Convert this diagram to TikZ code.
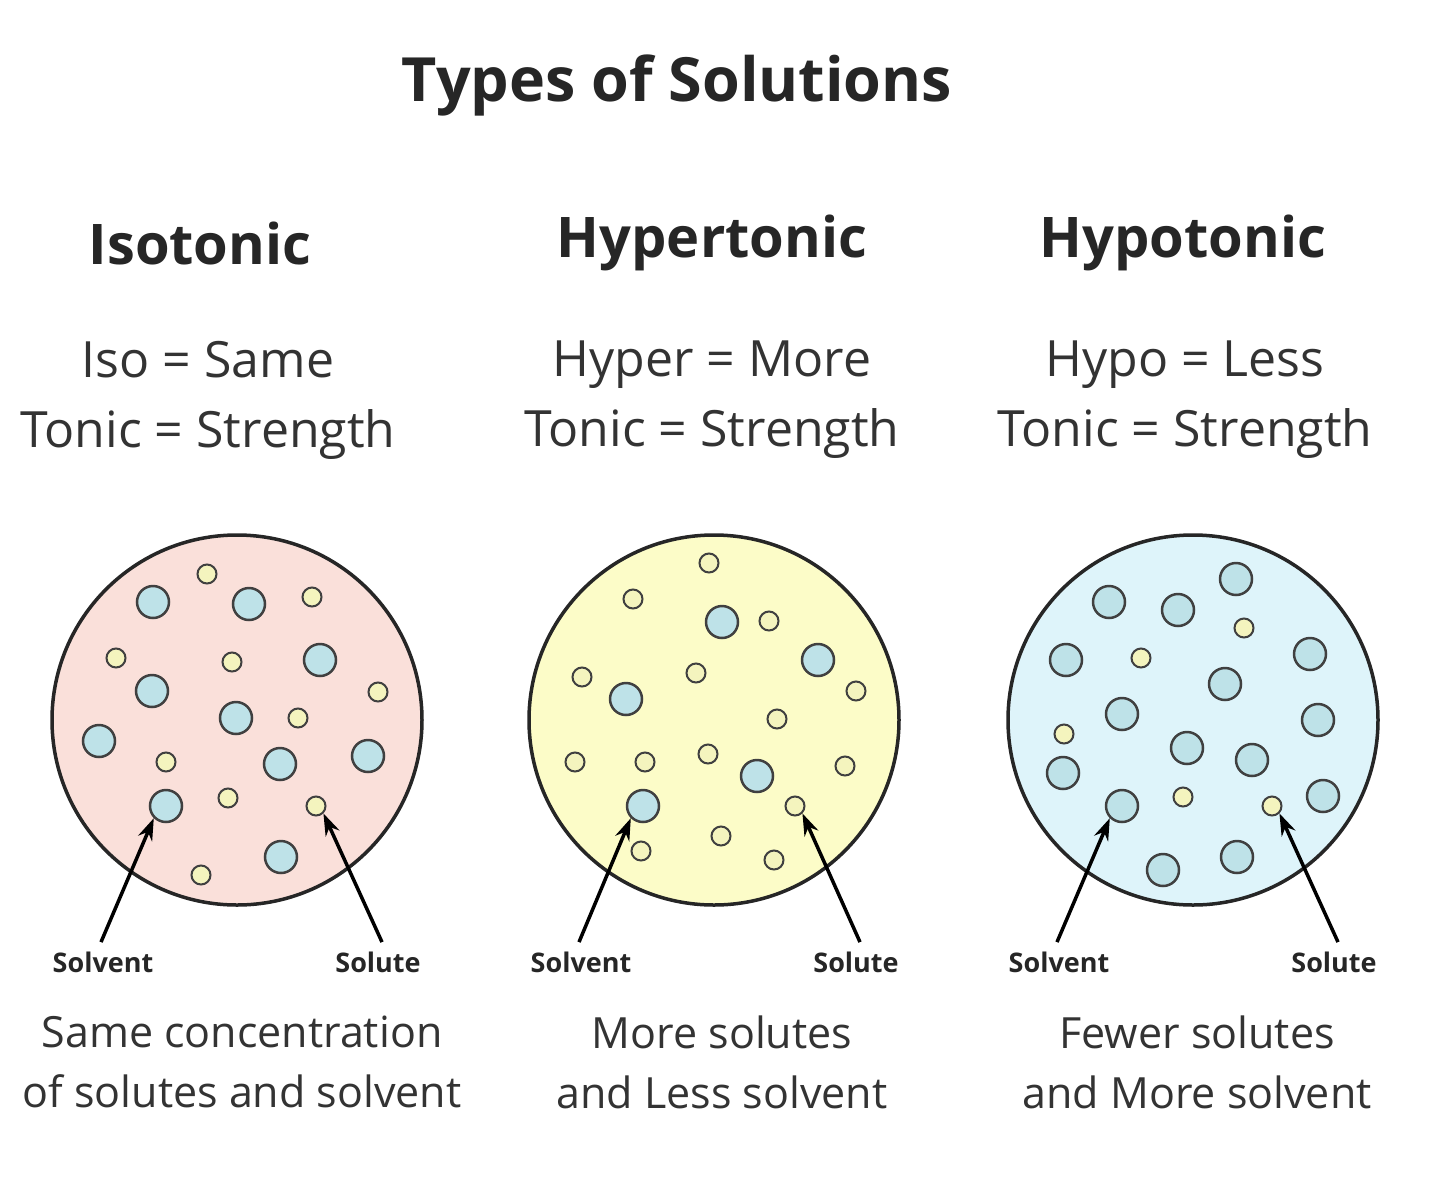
\documentclass[tikz,border=0pt]{standalone}
\usepackage{fontspec}
\setmainfont{Open Sans}
\usetikzlibrary{arrows.meta}
\definecolor{isofill}{RGB}{250,224,218}
\definecolor{hyperfill}{RGB}{252,252,200}
\definecolor{hypofill}{RGB}{222,244,250}
\definecolor{solventc}{RGB}{190,226,232}
\definecolor{solutec}{RGB}{244,244,190}
\tikzset{%
  tipA/.tip={Stealth[length=22pt,width=15pt]},
  cell/.style={draw=black!85,line width=3.5pt,circle,minimum size=370pt,inner sep=0pt},
  solvent/.style={draw=black!75,line width=2.5pt,fill=solventc,circle,minimum size=32pt,inner sep=0pt},
  solute/.style={draw=black!75,line width=2pt,fill=solutec,circle,minimum size=19pt,inner sep=0pt},
  head/.style={font=\fontsize{56}{60}\selectfont\bfseries,text=black!85},
  sub/.style={font=\fontsize{50}{70}\selectfont,text=black!80,align=center},
  tag/.style={font=\fontsize{27}{30}\selectfont\bfseries,text=black!85},
  foot/.style={font=\fontsize{43}{60}\selectfont,text=black!80,align=center},
  pointer/.style={line width=3.5pt,-tipA}
}
\begin{document}
\begin{tikzpicture}[x=1pt,y=-1pt]
\useasboundingbox (0,0) rectangle (1440,1189);
\fill[white] (0,0) rectangle (1440,1189);
\node[font=\fontsize{61}{64}\selectfont\bfseries,text=black!85] (title) at (677,85) {Types of Solutions};
% headings
\node[head] (isohead) at (200,243) {Isotonic};
\node[head] (hyperhead) at (712,243) {Hypertonic};
\node[head] (hypohead) at (1183,243) {Hypotonic};
\node[sub] (isosub) at (208,400) {Iso = Same\\Tonic = Strength};
\node[sub] (hypersub) at (712,400) {Hyper = More\\Tonic = Strength};
\node[sub] (hyposub) at (1185,400) {Hypo = Less\\Tonic = Strength};
% cells
\node[cell,fill=isofill] (isocell) at (237,720) {};
\node[cell,fill=hyperfill] (hypercell) at (714,720) {};
\node[cell,fill=hypofill] (hypocell) at (1193,720) {};
% isotonic
\foreach \p [count=\i] in {(153,602),(249,604),(320,660),(152,691),(236,718),(99,741),(280,764),(368,756),(166,806),(281,857)}
  \node[solvent] (isov\i) at \p {};
\foreach \p [count=\i] in {(207,574),(312,597),(116,658),(232,662),(378,692),(298,718),(166,762),(228,798),(316,806),(201,875)}
  \node[solute] (isou\i) at \p {};
% hypertonic
\foreach \p [count=\i] in {(722,622),(818,660),(626,699),(757,776),(643,806)}
  \node[solvent] (hyperv\i) at \p {};
\foreach \p [count=\i] in {(709,563),(633,599),(769,621),(582,677),(696,673),(856,691),(777,719),(575,762),(645,762),(708,754),(845,766),(795,806),(641,851),(721,836),(774,860)}
  \node[solute] (hyperu\i) at \p {};
% hypotonic
\foreach \p [count=\i] in {(1236,579),(1109,602),(1178,610),(1066,660),(1310,654),(1225,684),(1122,714),(1318,720),(1063,773),(1187,748),(1252,760),(1323,796),(1122,806),(1163,870),(1237,857)}
  \node[solvent] (hypov\i) at \p {};
\foreach \p [count=\i] in {(1244,628),(1141,658),(1064,734),(1183,797),(1272,806)}
  \node[solute] (hypou\i) at \p {};
% labels and pointers
\node[tag] (isotagv) at (103,962) {Solvent};
\node[tag] (isotagu) at (378,962) {Solute};
\node[tag] (hypertagv) at (581,962) {Solvent};
\node[tag] (hypertagu) at (856,962) {Solute};
\node[tag] (hypotagv) at (1059,962) {Solvent};
\node[tag] (hypotagu) at (1334,962) {Solute};
\draw[pointer] (isotagv.north) ++(-2,-6) -- (isov9.south west);
\draw[pointer] (isotagu.north) ++(4,-6) -- (isou9.south east);
\draw[pointer] (hypertagv.north) ++(-2,-6) -- (hyperv5.south west);
\draw[pointer] (hypertagu.north) ++(4,-6) -- (hyperu12.south east);
\draw[pointer] (hypotagv.north) ++(-2,-6) -- (hypov13.south west);
\draw[pointer] (hypotagu.north) ++(4,-6) -- (hypou5.south east);
% footers
\node[foot] (isofoot) at (242,1062) {Same concentration\\of solutes and solvent};
\node[foot] (hyperfoot) at (722,1062) {More solutes\\and Less solvent};
\node[foot] (hypofoot) at (1197,1062) {Fewer solutes\\and More solvent};
\end{tikzpicture}
\end{document}
